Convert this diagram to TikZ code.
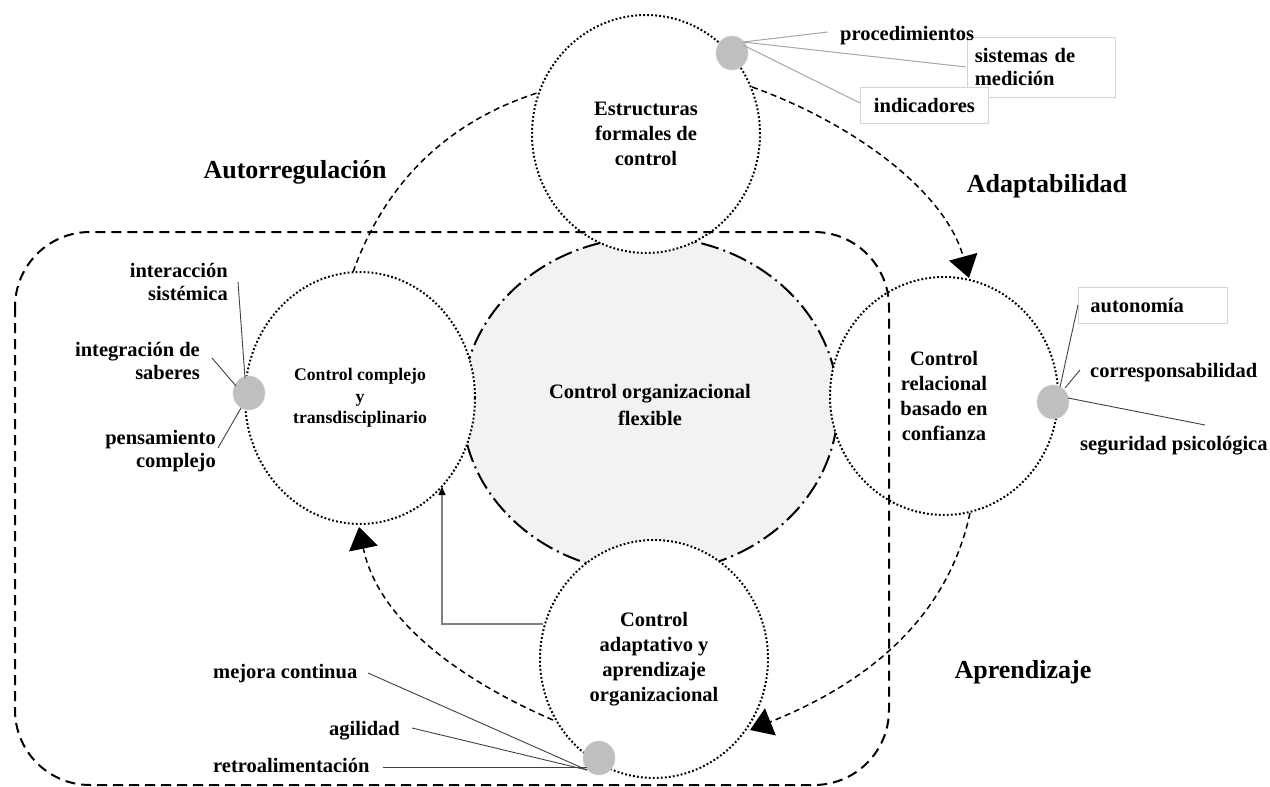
\documentclass[tikz,border=0pt]{standalone}
\usepackage{fontspec}
\setmainfont{Liberation Serif}
\usetikzlibrary{arrows.meta,shapes.geometric}
\definecolor{dotgrey}{HTML}{BFBFBF}
\definecolor{fillgrey}{HTML}{F2F2F2}
\definecolor{boxline}{HTML}{D4D4D4}
\definecolor{lightline}{HTML}{A6A6A6}
\definecolor{darkline}{HTML}{404040}
\definecolor{elbowgrey}{HTML}{808080}
\newcommand\lblfont{\bfseries\fontsize{20.5}{23}\selectfont}
\newcommand\circfont{\bfseries\fontsize{20.5}{25}\selectfont}
\newcommand\corefont{\bfseries\fontsize{20.5}{27}\selectfont}
\newcommand\leftcircfont{\bfseries\fontsize{17.7}{21.5}\selectfont}
\newcommand\bigfont{\bfseries\fontsize{26}{30}\selectfont}
\begin{document}
\begin{tikzpicture}[x=1pt,y=-1pt,
  circ/.style={ellipse, draw, fill=white, line width=2pt, dash pattern=on 1.8pt off 2.2pt,
    inner sep=0pt, align=center, font=\circfont},
  coreshape/.style={ellipse, draw, fill=fillgrey, line width=2pt,
    dash pattern=on 18pt off 5pt on 2pt off 5pt, inner sep=0pt, align=center, font=\corefont},
  gdot/.style={ellipse, fill=dotgrey, draw=dotgrey!70!white, line width=0.6pt, inner sep=0pt,
    minimum width=32pt, minimum height=34pt},
  tbox/.style={draw=boxline, fill=white, line width=0.8pt, inner sep=0pt, font=\lblfont},
  lbl/.style={inner sep=0pt, font=\lblfont},
  biglbl/.style={inner sep=0pt, font=\bigfont},
  arcline/.style={line width=1.5pt, dash pattern=on 6pt off 4pt},
  bigtip/.style={-{Triangle[length=22pt,width=29pt]}},
  frameline/.style={line width=2pt, dash pattern=on 10pt off 6pt},
  lightconn/.style={draw=lightline, line width=1pt},
  darkconn/.style={draw=darkline, line width=0.9pt},
]
\useasboundingbox (0,0) rectangle (1270,787);

% central ellipse
\node[coreshape, minimum width=376pt, minimum height=336pt] (core) at (650,405)
  {Control organizacional\\flexible};

% circles
\node[circ, minimum width=228pt, minimum height=238pt] (top) at (646,134)
  {Estructuras\\formales de\\control};
\node[circ, minimum width=230pt, minimum height=252pt, font=\leftcircfont] (left) at (360,398)
  {Control complejo\\y\\transdisciplinario};
\node[circ, minimum width=228pt, minimum height=238pt] (right) at (944,396)
  {Control\\relacional\\basado en\\confianza};
\node[circ, minimum width=228pt, minimum height=238pt] (bottom) at (654,659)
  {Control\\adaptativo y\\aprendizaje\\organizacional};

% dashed frame
\draw[frameline, rounded corners=75pt] (15,232) rectangle (889,785);

% arc connectors
\coordinate (a1s) at (353,272);
\coordinate (a1e) at (537,93);
\draw[arcline] (a1s) .. controls (390,170) and (460,118) .. (a1e);

\coordinate (a2s) at (752,87);
\coordinate (a2e) at (969,278);
\draw[arcline, bigtip] (a2s) .. controls (850,122) and (945,190) .. (a2e);

\coordinate (a3s) at (970,513);
\coordinate (a3e) at (750,730);
\draw[arcline, bigtip] (a3s) .. controls (945,630) and (850,690) .. (a3e);

\coordinate (a4s) at (553,720);
\coordinate (a4e) at (359,527);
\draw[arcline, bigtip] (a4s) .. controls (460,680) and (378,620) .. (a4e);

% elbow arrow
\coordinate (e1) at (543,624);
\coordinate (e2) at (442,624);
\coordinate (e3) at (442,487);
\draw[draw=elbowgrey, line width=1.3pt, -{Triangle[length=8pt,width=7pt,color=black]}]
  (e1) -- (e2) -- (e3);

% text boxes (top right)
\node[tbox, anchor=north west, minimum width=148pt, minimum height=60pt,
  text width=133pt, align=left] (sm) at (967,37) {sistemas de\\medición};
\node[tbox, anchor=north west, minimum width=128pt, minimum height=36pt] (ind) at (860,87) {indicadores};
\node[lbl, anchor=base west] (proc) at (840,40) {procedimientos};

% top dot
\node[gdot] (dt) at (732,53) {};
\coordinate (tp1) at (828,32);
\coordinate (tp2) at (966,67);
\coordinate (tp3) at (860,103);
\draw[lightconn] (743,42) -- (tp1);
\draw[lightconn] (743,42) -- (tp2);
\draw[lightconn] (743,45) -- (tp3);

% left dot
\node[gdot] (dl) at (249,393) {};
\draw[darkconn] (245,378) -- (238,282);
\draw[darkconn] (236,386) -- (212,358);
\draw[darkconn] (241,408) -- (218,448);
\node[lbl, anchor=east, align=right] (l1) at (228,282) {interacción\\sistémica};
\node[lbl, anchor=east, align=right] (l2) at (200,361) {integración de\\saberes};
\node[lbl, anchor=east, align=right] (l3) at (216,451) {pensamiento\\complejo};

% right dot
\node[tbox, anchor=north west, minimum width=149pt, minimum height=36pt,
  text width=125pt, align=left] (auto) at (1078,287) {autonomía};
\node[gdot] (dr) at (1053,402) {};
\draw[darkconn] (1060,387) -- (1078,305);
\draw[darkconn] (1065,388) -- (1080,370);
\draw[darkconn] (1068,398) -- (1205,425);
\node[lbl, anchor=base west] (r2) at (1090,377) {corresponsabilidad};
\node[lbl, anchor=base west] (r3) at (1080,450) {seguridad psicológica};

% bottom dot
\node[gdot] (db) at (599,758) {};
\draw[darkconn] (587,770) -- (368,673);
\draw[darkconn] (587,770) -- (412,728);
\draw[darkconn] (587,767) -- (383,767);
\node[lbl, anchor=base west] (b1) at (213,678) {mejora continua};
\node[lbl, anchor=base east] (b2) at (400,735) {agilidad};
\node[lbl, anchor=base west] (b3) at (213,772) {retroalimentación};

% big labels
\node[biglbl] (autorreg) at (295,172) {Autorregulación};
\node[biglbl] (adapt) at (1047,186) {Adaptabilidad};
\node[biglbl] (aprend) at (1023,672) {Aprendizaje};
\end{tikzpicture}
\end{document}
